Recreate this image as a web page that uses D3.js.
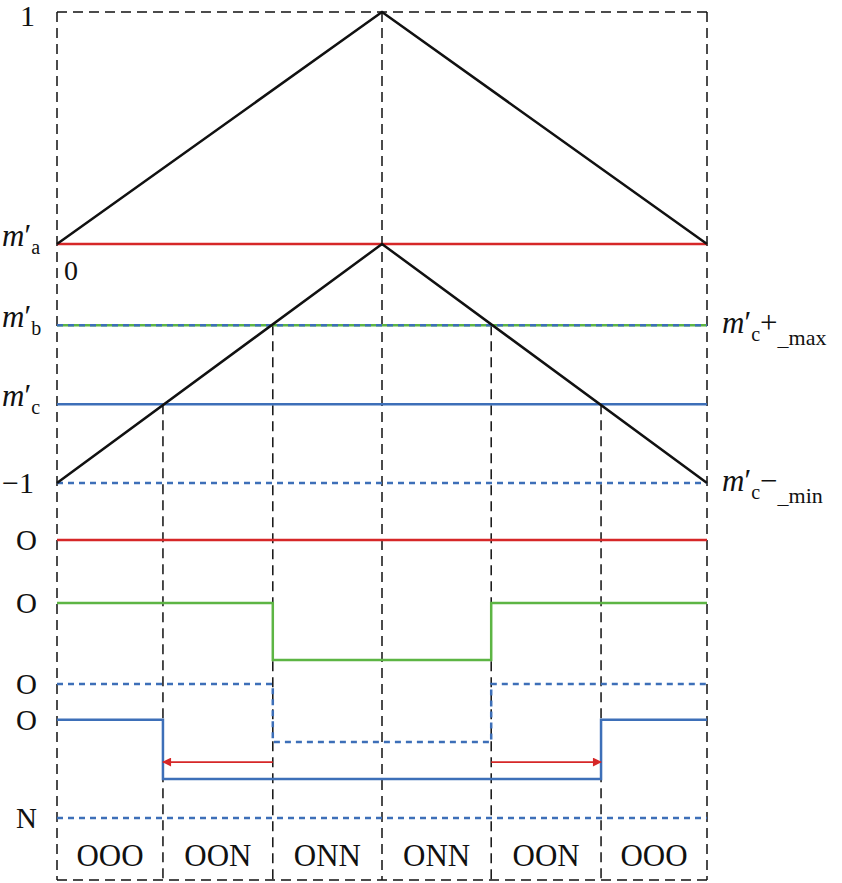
<!DOCTYPE html>
<html><head><meta charset="utf-8">
<script src="https://cdn.jsdelivr.net/npm/d3@7"></script>
<style>body{margin:0;background:#fff}text{font-family:"Liberation Serif","Times New Roman",serif;fill:#111}</style>
</head><body>
<svg width="842" height="883"></svg>
<script>
// switching instants (fraction of the period)
const times = [0, 0.163, 0.332, 0.5, 0.668, 0.837, 1];
const carrierUpper = [[0, 0], [0.5, 1], [1, 0]];
const carrierLower = [[0, -1], [0.5, 0], [1, -1]];
const refLevels = [
  { name: "a", v: 0, color: "#d62728", dash: null },
  { name: "b", v: -0.34, color: "#5db544", dash: null },
  { name: "b2", v: -0.34, color: "#3d6fb8", dash: "6,5" },
  { name: "c", v: -0.67, color: "#3d6fb8", dash: null },
  { name: "min", v: -1, color: "#3d6fb8", dash: "6,5" }
];
// switching signals: [time, level] steps, level in signal-band units
const signals = [
  { color: "#d62728", dash: null, pts: [[0, 0], [1, 0]] },
  { color: "#5db544", dash: null, pts: [[0, 0.227], [0.332, 0.227], [0.332, 0.432], [0.668, 0.432], [0.668, 0.227], [1, 0.227]] },
  { color: "#3d6fb8", dash: "6,5", pts: [[0, 0.518], [0.332, 0.518], [0.332, 0.727], [0.668, 0.727], [0.668, 0.518], [1, 0.518]] },
  { color: "#3d6fb8", dash: null, pts: [[0, 0.647], [0.163, 0.647], [0.163, 0.86], [0.837, 0.86], [0.837, 0.647], [1, 0.647]] },
  { color: "#3d6fb8", dash: "6,5", pts: [[0, 1], [1, 1]] }
];
const arrows = [[0.332, 0.163, 0.799], [0.668, 0.837, 0.799]];
const stateLabels = ["OOO", "OON", "ONN", "ONN", "OON", "OOO"];
const signalLabels = [["O", 0], ["O", 0.227], ["O", 0.518], ["O", 0.647], ["N", 1]];

const svg = d3.select("svg");
const x = d3.scaleLinear().domain([0, 1]).range([57, 707]);
const y = d3.scaleLinear().domain([-1, 0, 1]).range([483, 244, 12]);
const sY = d3.scaleLinear().domain([0, 1]).range([540, 818]);

svg.append("defs").append("marker").attr("id", "arr").attr("viewBox", "0 0 10 10")
  .attr("refX", 9).attr("refY", 5).attr("markerWidth", 12).attr("markerHeight", 9)
  .attr("markerUnits", "userSpaceOnUse").attr("orient", "auto")
  .append("path").attr("d", "M0,0L10,5L0,10z").attr("fill", "#d62728");

// frame / grid
const grid = svg.append("g").attr("stroke", "#111").attr("stroke-width", 1.5).attr("stroke-dasharray", "10,6").attr("fill", "none");
grid.append("line").attr("x1", x(0)).attr("x2", x(1)).attr("y1", y(1)).attr("y2", y(1));
grid.append("line").attr("x1", x(0)).attr("x2", x(1)).attr("y1", 880).attr("y2", 880);
grid.selectAll(".v").data(times).join("line")
  .attr("x1", d => x(d)).attr("x2", d => x(d))
  .attr("y1", (d, i) => i === 0 || i === 6 || i === 3 ? y(1) : y(-0.34 - (i === 1 || i === 5 ? 0.33 : 0)))
  .attr("y2", 880);

// reference levels
svg.selectAll(".ref").data(refLevels).join("line")
  .attr("x1", x(0)).attr("x2", x(1)).attr("y1", d => y(d.v)).attr("y2", d => y(d.v))
  .attr("stroke", d => d.color).attr("stroke-width", 2.5).attr("stroke-dasharray", d => d.dash);

// carriers
const line = d3.line().x(d => x(d[0]));
[carrierUpper, carrierLower].forEach(c => {
  svg.append("path").attr("d", line.y(d => y(d[1]))(c))
    .attr("fill", "none").attr("stroke", "#111").attr("stroke-width", 2.5);
});

// switching signals
signals.forEach(s => {
  svg.append("path").attr("d", line.y(d => sY(d[1]))(s.pts))
    .attr("fill", "none").attr("stroke", s.color).attr("stroke-width", 2.5).attr("stroke-dasharray", s.dash);
});
arrows.forEach(a => {
  svg.append("line").attr("x1", x(a[0])).attr("x2", x(a[1])).attr("y1", sY(a[2])).attr("y2", sY(a[2]))
    .attr("stroke", "#d62728").attr("stroke-width", 1.6).attr("marker-end", "url(#arr)");
});

// labels
function mLabel(tx, ty, sub, anchor) {
  const t = svg.append("text").attr("x", tx).attr("y", ty).attr("font-size", 31).attr("text-anchor", anchor || "start");
  t.append("tspan").attr("font-style", "italic").text("m");
  t.append("tspan").text("′");
  t.append("tspan").attr("font-size", 20).attr("dy", 8).text(sub);
  return t;
}
mLabel(2, y(0) + 2, "a");
mLabel(2, y(-0.34) + 2, "b");
mLabel(2, y(-0.67) + 2, "c");
svg.append("text").attr("x", 20).attr("y", y(1) + 14).attr("font-size", 30).text("1");
svg.append("text").attr("x", 2).attr("y", y(-1) + 10).attr("font-size", 30).text("−1");
svg.append("text").attr("x", 64).attr("y", y(0) + 36).attr("font-size", 28).text("0");
[["+", "max", -0.34], ["−", "min", -1]].forEach(r => {
  const t = mLabel(722, y(r[2]) + 8, "c");
  t.append("tspan").attr("dy", -8).attr("font-size", 31).text(r[0]);
  t.append("tspan").attr("dy", 12).attr("font-size", 22).text("_" + r[1]);
});
svg.selectAll(".sl").data(signalLabels).join("text")
  .attr("x", 16).attr("y", d => sY(d[1]) + 10).attr("font-size", 29).text(d => d[0]);
svg.selectAll(".st").data(stateLabels).join("text")
  .attr("x", (d, i) => (x(times[i]) + x(times[i + 1])) / 2).attr("y", 866)
  .attr("text-anchor", "middle").attr("font-size", 31).text(d => d);
</script>
</body></html>
